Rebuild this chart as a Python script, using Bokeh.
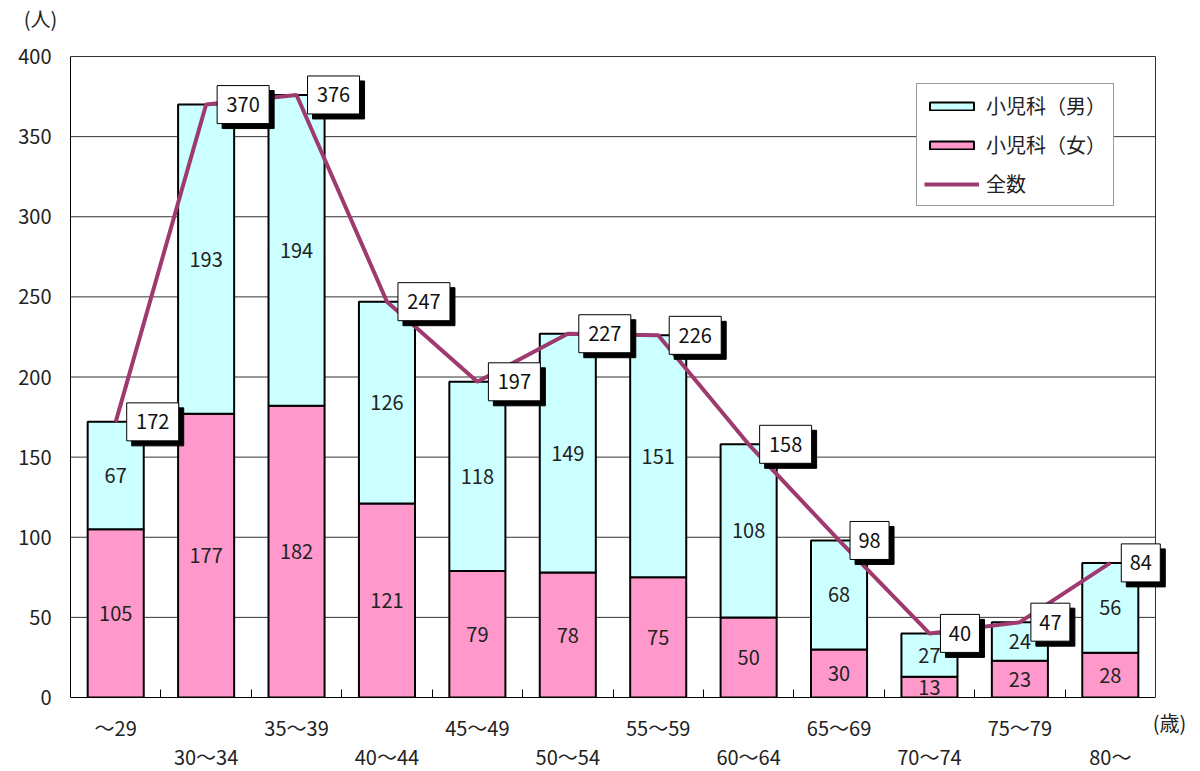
from bokeh.plotting import figure
from bokeh.models import (Range1d, FixedTicker, Legend, LegendItem, Label, ColumnDataSource, LinearAxis)
from bokeh.core.properties import value
from bokeh.embed import file_html
from bokeh.resources import INLINE

categories = ["～29", "30～34", "35～39", "40～44", "45～49", "50～54",
              "55～59", "60～64", "65～69", "70～74", "75～79", "80～"]
female = [105, 177, 182, 121, 79, 78, 75, 50, 30, 13, 23, 28]
male = [67, 193, 194, 126, 118, 149, 151, 108, 68, 27, 24, 56]
total = [172, 370, 376, 247, 197, 227, 226, 158, 98, 40, 47, 84]
y_ticks = [0, 50, 100, 150, 200, 250, 300, 350, 400]

FONT = "Noto Sans CJK JP"
n = len(categories)
YMAX = 400
PW, PH = 1085, 641          # visible plot box in px
EXR, EXT = 15, 2            # extra room right / top so that labels are not clipped
px_x = PW / n
px_y = PH / YMAX

p = figure(output_backend="svg", toolbar_location=None,
           frame_width=PW + EXR, frame_height=PH + EXT,
           min_border_left=70, min_border_top=56 - EXT, min_border_right=28, min_border_bottom=0,
           x_range=Range1d(0, n + EXR / px_x), y_range=Range1d(0, YMAX + EXT / px_y))
p.background_fill_color = "white"
p.border_fill_color = "white"
p.outline_line_color = None

xs = [i + 0.5 for i in range(n)]
mid_f = [f / 2 for f in female]
mid_m = [f + m / 2 for f, m in zip(female, male)]

# grid lines and right edge of the plot box
gt = [t for t in y_ticks if t > 0]
p.segment(x0=[0] * len(gt), x1=[n] * len(gt), y0=gt, y1=gt, line_color="#333333", line_width=1)
p.segment(x0=[n], x1=[n], y0=[0], y1=[YMAX], line_color="#333333", line_width=1)

src = ColumnDataSource(dict(x=xs, female=female, male=male, total=total,
                            mid_f=mid_f, mid_m=mid_m,
                            tf=[str(v) for v in female], tm=[str(v) for v in male]))

r_f = p.vbar(x="x", bottom=0, top="female", width=0.62, source=src,
             fill_color="#FF99CC", line_color="black", line_width=2)
src2 = ColumnDataSource(dict(x=xs, b=female, t=total))
r_m = p.vbar(x="x", bottom="b", top="t", width=0.62, source=src2,
             fill_color="#CCFFFF", line_color="black", line_width=2)

p.text(x="x", y="mid_f", text="tf", source=src, text_align="center", text_baseline="middle",
       text_font=value(FONT), text_font_size="20px", text_color="#222222")
p.text(x="x", y="mid_m", text="tm", source=src, text_align="center", text_baseline="middle",
       text_font=value(FONT), text_font_size="20px", text_color="#222222")

r_l = p.line(x=xs, y=total, line_color="#9E3A6E", line_width=4)

# total labels in shadowed boxes
bw = [13 * len(str(t)) + 13 for t in total]
bx = [x + (11 + w / 2) / px_x for x, w in zip(xs, bw)]
sx = [x + 5 / px_x for x in bx]
sy = [t - 5 / px_y for t in total]
p.rect(x=sx, y=sy, width=bw, height=[38] * n, width_units="screen", height_units="screen",
       fill_color="black", line_color="black")
p.rect(x=bx, y=total, width=bw, height=[38] * n, width_units="screen", height_units="screen",
       fill_color="white", line_color="black", line_width=1)
p.text(x=bx, y=total, text=[str(t) for t in total], text_align="center", text_baseline="middle",
       text_font=value(FONT), text_font_size="20px", text_color="#111111")

# axes
p.xgrid.visible = False
p.ygrid.visible = False

yax = p.yaxis[0]
yax.ticker = FixedTicker(ticks=y_ticks)
yax.bounds = (0, YMAX)
yax.major_tick_out = 0
yax.major_tick_in = 0
yax.minor_tick_out = 0
yax.minor_tick_in = 0
yax.axis_line_color = "black"
yax.major_label_standoff = 19
yax.major_label_text_font = FONT
yax.major_label_text_font_size = "20px"
yax.major_label_text_color = "#222222"

xax = p.xaxis[0]
xax.ticker = FixedTicker(ticks=xs, minor_ticks=list(range(1, n)))
xax.bounds = (0, n)
xax.major_label_overrides = {x: (c if i % 2 == 0 else "") for i, (x, c) in enumerate(zip(xs, categories))}
xax.major_tick_out = 0
xax.major_tick_in = 0
xax.minor_tick_in = 8
xax.minor_tick_out = 0
xax.minor_tick_line_color = "black"
xax.axis_line_color = "black"
xax.major_label_standoff = 15
xax.major_label_text_font = FONT
xax.major_label_text_font_size = "20px"
xax.major_label_text_color = "#222222"

xax2 = LinearAxis(ticker=FixedTicker(ticks=xs, minor_ticks=[]))
xax2.major_label_overrides = {x: (c if i % 2 == 1 else "") for i, (x, c) in enumerate(zip(xs, categories))}
xax2.major_tick_out = 0
xax2.major_tick_in = 0
xax2.minor_tick_in = 0
xax2.minor_tick_out = 0
xax2.axis_line_color = None
xax2.major_label_standoff = -3
xax2.major_label_text_font = FONT
xax2.major_label_text_font_size = "20px"
xax2.major_label_text_color = "#222222"
p.add_layout(xax2, "below")

legend = Legend(items=[LegendItem(label="小児科（男）", renderers=[r_m]),
                       LegendItem(label="小児科（女）", renderers=[r_f]),
                       LegendItem(label="全数", renderers=[r_l])],
                location=(846, 491), padding=7, spacing=10, margin=0,
                glyph_width=55, glyph_height=10, label_height=20, label_standoff=7,
                label_text_font=FONT, label_text_font_size="20px", label_text_color="#222222",
                border_line_color="#333333", border_line_width=1, background_fill_alpha=1)
p.add_layout(legend, "center")

# unit labels live in side panels so that they are not clipped to the frame
p.add_layout(Label(x=-30, y=36, x_units="screen", y_units="screen", text="(人)",
                   text_font=FONT, text_font_size="20px", text_align="center",
                   text_baseline="middle", text_color="#222222"), "above")
p.add_layout(Label(x=-1, y=-25, x_units="screen", y_units="screen", text="(歳)",
                   text_font=FONT, text_font_size="20px", text_align="center",
                   text_baseline="middle", text_color="#222222"), "right")

open("out.html", "w").write(file_html(p, INLINE))
